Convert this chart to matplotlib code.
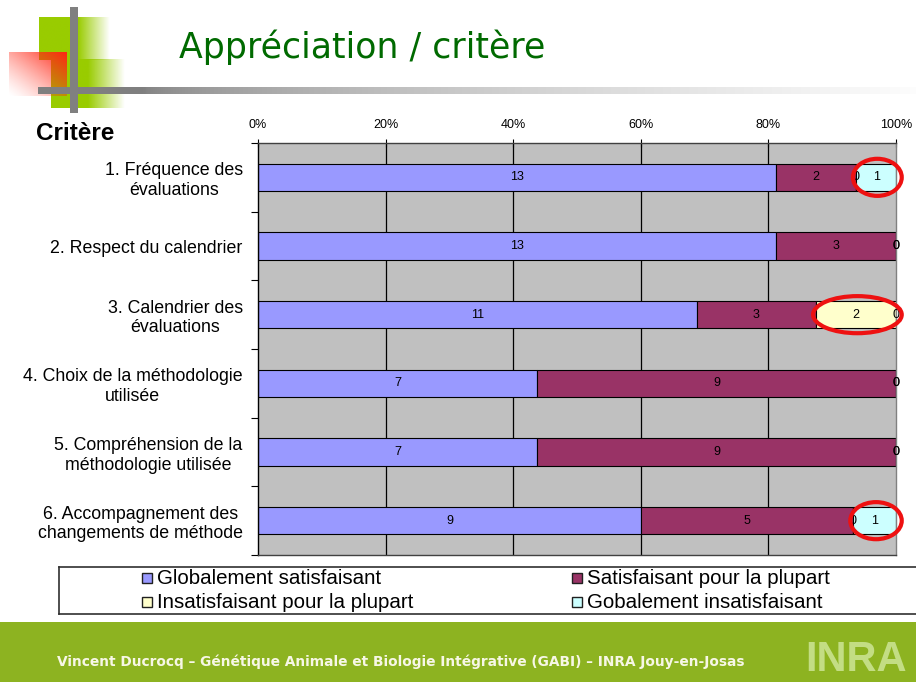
import numpy as np
import matplotlib
matplotlib.use("Agg")
import matplotlib.pyplot as plt
from matplotlib.patches import Rectangle, Ellipse
from matplotlib.lines import Line2D

# ---------------- data ----------------
criteria = [
    "1. Fréquence des\névaluations",
    "2. Respect du calendrier",
    "3. Calendrier des\névaluations",
    "4. Choix de la méthodologie\nutilisée",
    "5. Compréhension de la\nméthodologie utilisée",
    "6. Accompagnement des\nchangements de méthode",
]
series_names = [
    "Globalement satisfaisant",
    "Satisfaisant pour la plupart",
    "Insatisfaisant pour la plupart",
    "Gobalement insatisfaisant",
]
glob_satisf = [13, 13, 11, 7, 7, 9]
satisf_plupart = [2, 3, 3, 9, 9, 5]
insatisf_plupart = [0, 0, 2, 0, 0, 0]
glob_insatisf = [1, 0, 0, 0, 0, 1]
series_colors = ["#9999FF", "#993366", "#FFFFCC", "#CCFFFF"]
x_ticks = [0, 20, 40, 60, 80, 100]
x_tick_labels = ["0%", "20%", "40%", "60%", "80%", "100%"]
# highlighted (row index, series index)
highlights = [(0, 3), (2, 2), (5, 3)]

title = "Appréciation / critère"
footer = "Vincent Ducrocq – Génétique Animale et Biologie Intégrative (GABI) – INRA Jouy-en-Josas"

W, H = 916, 682
fig = plt.figure(figsize=(W / 100, H / 100), dpi=100)
plt.rcParams["font.family"] = ["Liberation Sans", "DejaVu Sans"]

# ---------------- background decoration ----------------
bg = fig.add_axes([0, 0, 1, 1], zorder=0)
bg.set_xlim(0, W)
bg.set_ylim(H, 0)
bg.axis("off")

def hgrad(x0, x1, y0, y1, rgb, solid_frac, z):
    n = 200
    a = np.ones(n)
    k = int(n * solid_frac)
    a[k:] = np.linspace(1, 0, n - k)
    img = np.zeros((1, n, 4))
    img[..., :3] = rgb
    img[..., 3] = a
    bg.imshow(img, extent=(x0, x1, y1, y0), aspect="auto", zorder=z, interpolation="bilinear")

green = np.array([0x99, 0xCC, 0x00]) / 255
hgrad(39, 110, 17, 60, green, 0.55, 1)
hgrad(51, 125, 59, 108, green, 0.5, 1)

# red diagonal gradient block
n = 100
xx, yy = np.meshgrid(np.linspace(0, 1, n), np.linspace(0, 1, n))
alpha = np.clip((xx + (1 - yy)) / 2, 0, 1) ** 1.3
red_img = np.zeros((n, n, 4))
red_img[..., 0] = 1.0
red_img[..., 1] = 0.15
red_img[..., 2] = 0.08
red_img[..., 3] = alpha
bg.imshow(red_img, extent=(9, 67, 96, 52), aspect="auto", zorder=2, interpolation="bilinear")

# gray bars
bg.add_patch(Rectangle((70, 7), 8, 106, color="#808080", zorder=4, lw=0))
nl = 400
gl = np.zeros((1, nl, 4))
t = np.linspace(0, 1, nl)
v = 0.50 + 0.49 * np.clip((t - 0.12) / 0.88, 0, 1) ** 0.6
gl[..., 0] = v
gl[..., 1] = v
gl[..., 2] = v
gl[..., 3] = 1
bg.imshow(gl, extent=(38, W, 94, 87), aspect="auto", zorder=3, interpolation="bilinear")
bg.set_xlim(0, W)
bg.set_ylim(H, 0)

# title
bg.text(362, 47, title, fontsize=25, color="#006A00", ha="center", va="center",
        family=["DejaVu Sans"], zorder=5)

# footer
bg.add_patch(Rectangle((0, 622), W, H - 622, color="#8DB321", lw=0, zorder=1))
bg.text(57, 662, footer, fontsize=9.9, color="#F7F7E6", ha="left", va="center",
        family=["DejaVu Sans"], fontweight="bold", zorder=5)
bg.text(805, 680, "INRA", fontsize=30, color="#C3DD84", ha="left", va="bottom",
        family=["Liberation Sans"], fontweight="bold", zorder=5)

# "Critère"
bg.text(36, 133, "Critère", fontsize=17.5, fontweight="bold", ha="left", va="center", zorder=5)

# legend box
bg.add_line(Line2D([59, W + 2], [567, 567], color="#303030", lw=1.2, zorder=5))
bg.add_line(Line2D([59, W + 2], [614, 614], color="#303030", lw=1.2, zorder=5))
bg.add_line(Line2D([59, 59], [567, 614], color="#303030", lw=1.2, zorder=5))
leg_pos = [(142, 578), (572, 578), (142, 602), (572, 602)]
for (lx, ly), name, col in zip(leg_pos, series_names, series_colors):
    bg.add_patch(Rectangle((lx, ly - 5), 10, 10, facecolor=col, edgecolor="#202020", lw=1, zorder=5))
    bg.text(lx + 15, ly + 1, name, fontsize=14.8, ha="left", va="center", zorder=5)

# ---------------- chart ----------------
left, right, top, bottom = 258, 896, 143, 555
ax = fig.add_axes([left / W, 1 - bottom / H, (right - left) / W, (bottom - top) / H], zorder=2)
ax.set_facecolor("#C0C0C0")

data = np.array([glob_satisf, satisf_plupart, insatisf_plupart, glob_insatisf], dtype=float)
totals = data.sum(axis=0)
pct = data / totals * 100
ypos = np.arange(len(criteria))
ax.set_xlim(0, 100)
ax.set_ylim(len(criteria) - 0.5, -0.5)
for xv in x_ticks[1:-1]:
    ax.axvline(xv, color="black", lw=0.9, zorder=1)

cum = np.zeros(len(criteria))
starts = []
for i in range(4):
    starts.append(cum.copy())
    bars = ax.barh(ypos, pct[i], left=cum, height=0.4, color=series_colors[i],
                   edgecolor="black", lw=0.8, zorder=2)
    ax.bar_label(bars, labels=[str(int(vv)) for vv in data[i]], label_type="center",
                 fontsize=9, color="black", zorder=4)
    cum = cum + pct[i]

for (r, s) in highlights:
    x0 = starts[s][r]
    w = pct[s][r]
    e = Ellipse((x0 + w / 2 + 0.2, r), w + 1.4, 0.54, fill=False, edgecolor="#EE1111",
                lw=3, zorder=5, clip_on=False)
    ax.add_patch(e)

ax.xaxis.tick_top()
ax.set_xticks(x_ticks)
ax.set_xticklabels(x_tick_labels, fontsize=9)
ax.tick_params(axis="x", direction="inout", length=6, width=0.8, pad=6)
ax.set_yticks(ypos)
ax.set_yticklabels(criteria, fontsize=12.8, multialignment="center")
ax.tick_params(axis="y", length=0, pad=11)
ax.set_yticks(np.arange(-0.5, len(criteria), 1), minor=True)
ax.tick_params(axis="y", which="minor", length=5, width=0.8, direction="out")
for sname, sp in ax.spines.items():
    sp.set_linewidth(1)
    sp.set_color("#404040")
ax.spines["left"].set_color("black")
ax.spines["right"].set_color("#808080")

fig.savefig("out.png", dpi=100)
